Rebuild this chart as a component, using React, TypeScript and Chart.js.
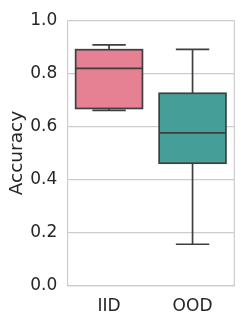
import React, { useEffect, useRef } from "react";
import { Chart, registerables } from "chart.js";

Chart.register(...registerables);

const categories = ["IID", "OOD"];
const whiskerLow = [0.661, 0.157];
const q1 = [0.668, 0.462];
const medians = [0.819, 0.576];
const q3 = [0.889, 0.725];
const whiskerHigh = [0.907, 0.89];
const yTicks = [0, 0.2, 0.4, 0.6, 0.8, 1.0];
const boxColors = ["#e68193", "#459e97"];

const LINE = "#3f3f3f";
const GRID = "#cccccc";
const TEXT = "#262626";
const FONT = "'DejaVu Sans', sans-serif";

const boxPlugin = {
  id: "boxDetails",
  beforeDatasetsDraw(chart: any) {
    const { ctx, chartArea } = chart;
    ctx.save();
    ctx.strokeStyle = GRID;
    ctx.lineWidth = 1.2;
    ctx.beginPath();
    ctx.moveTo(chartArea.right, chartArea.top);
    ctx.lineTo(chartArea.right, chartArea.bottom);
    ctx.stroke();
    ctx.restore();
  },
  afterDatasetsDraw(chart: any) {
    const meta = chart.getDatasetMeta(0);
    const xs = chart.scales.x;
    const ys = chart.scales.y;
    const ctx = chart.ctx;
    ctx.save();
    ctx.strokeStyle = LINE;
    ctx.lineWidth = 1.7;
    ctx.lineCap = "butt";
    meta.data.forEach((bar: any, i: number) => {
      const { width } = bar.getProps(["width"], true);
      const cx = xs.getPixelForValue(i);
      const half = width / 2;
      const yLo = ys.getPixelForValue(whiskerLow[i]);
      const yQ1 = ys.getPixelForValue(q1[i]);
      const yMed = ys.getPixelForValue(medians[i]);
      const yQ3 = ys.getPixelForValue(q3[i]);
      const yHi = ys.getPixelForValue(whiskerHigh[i]);
      ctx.strokeRect(cx - half, yQ3, width, yQ1 - yQ3);
      ctx.beginPath();
      ctx.moveTo(cx - half, yMed);
      ctx.lineTo(cx + half, yMed);
      ctx.moveTo(cx, yQ3);
      ctx.lineTo(cx, yHi);
      ctx.moveTo(cx, yQ1);
      ctx.lineTo(cx, yLo);
      ctx.moveTo(cx - half / 2, yHi);
      ctx.lineTo(cx + half / 2, yHi);
      ctx.moveTo(cx - half / 2, yLo);
      ctx.lineTo(cx + half / 2, yLo);
      ctx.stroke();
    });
    ctx.restore();
  },
};

export default function App() {
  const ref = useRef<HTMLCanvasElement | null>(null);
  useEffect(() => {
    if (!ref.current) return;
    const chart = new Chart(ref.current, {
      type: "bar",
      data: {
        labels: categories,
        datasets: [
          {
            data: categories.map((_, i) => [q1[i], q3[i]]) as any,
            backgroundColor: boxColors,
            borderWidth: 0,
            barPercentage: 0.8,
            categoryPercentage: 1.0,
          },
        ],
      },
      options: {
        animation: false,
        responsive: false,
        devicePixelRatio: 1,
        layout: { padding: { top: 14, right: 6.7, left: 0, bottom: 0 } },
        plugins: {
          legend: { display: false },
          tooltip: { enabled: false },
        },
        scales: {
          x: {
            grid: { display: false, drawTicks: false },
            border: { display: true, color: GRID, width: 1.2 },
            ticks: {
              color: TEXT,
              font: { family: FONT, size: 17 },
              padding: 10,
            },
            afterFit: (s: any) => {
              s.height = 33;
            },
          },
          y: {
            min: 0,
            max: 1,
            afterBuildTicks: (s: any) => {
              s.ticks = yTicks.map((v) => ({ value: v }));
            },
            grid: { color: GRID, lineWidth: 1.2, drawTicks: false },
            border: { display: true, color: GRID, width: 1.2 },
            ticks: {
              color: TEXT,
              font: { family: FONT, size: 17 },
              padding: 10,
              callback: (v: any) => Number(v).toFixed(1),
            },
            title: {
              display: true,
              text: "Accuracy",
              color: TEXT,
              font: { family: FONT, size: 18.5 },
              padding: { top: 6, bottom: 0 },
            },
            afterFit: (s: any) => {
              s.width = 67.3;
            },
          },
        },
      },
      plugins: [boxPlugin],
    });
    return () => chart.destroy();
  }, []);
  return (
    <div style={{ position: "absolute", left: 0, top: 0, width: 241, height: 319, background: "#fff" }}>
      <canvas ref={ref} width={241} height={319} style={{ width: 241, height: 319 }} />
    </div>
  );
}
